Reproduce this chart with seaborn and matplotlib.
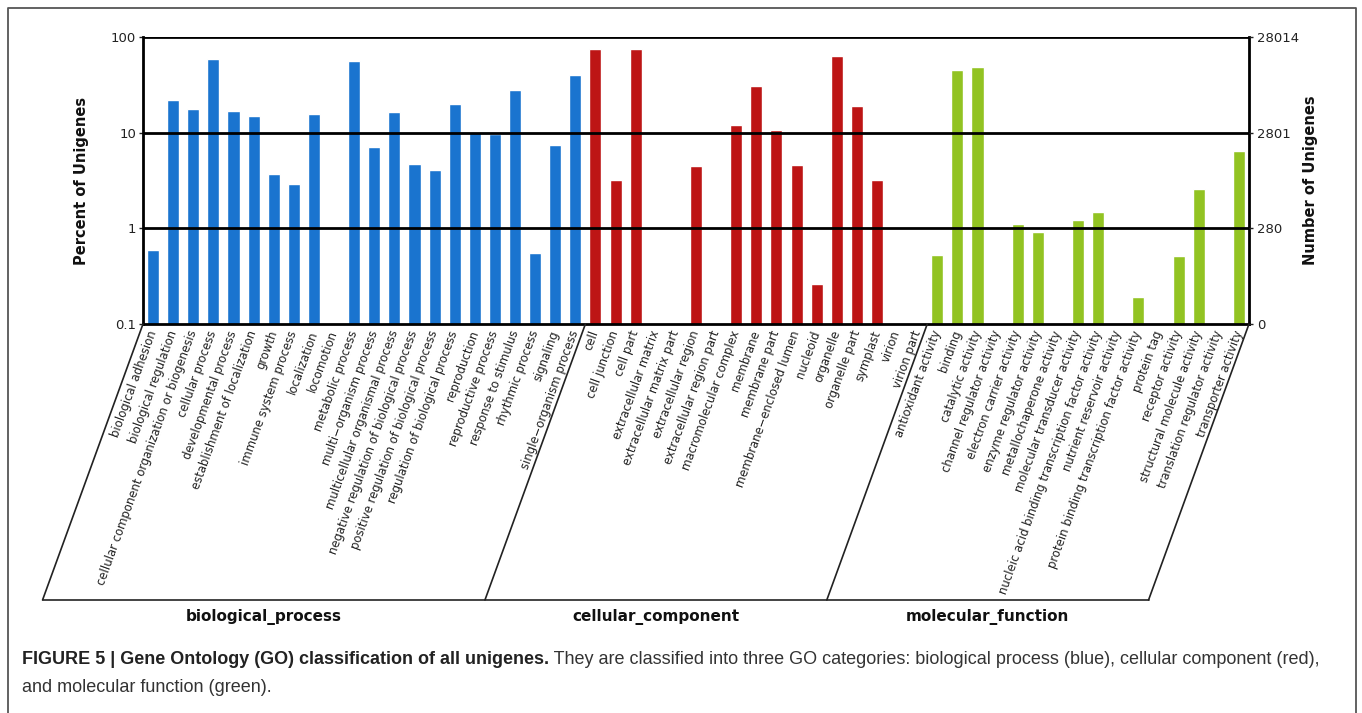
import numpy as np
import pandas as pd
import matplotlib
matplotlib.use("Agg")
import matplotlib.pyplot as plt
import seaborn as sns
from matplotlib.lines import Line2D
from matplotlib.ticker import NullLocator

# GO level-2 terms and the share of unigenes (%) annotated to each
bp_terms = [
    "biological adhesion", "biological regulation",
    "cellular component organization or biogenesis", "cellular process",
    "developmental process", "establishment of localization", "growth",
    "immune system process", "localization", "locomotion", "metabolic process",
    "multi\u2212organism process", "multicellular organismal process",
    "negative regulation of biological process",
    "positive regulation of biological process",
    "regulation of biological process", "reproduction", "reproductive process",
    "response to stimulus", "rhythmic process", "signaling",
    "single\u2212organism process",
]
bp_percent = [0.59, 21.8, 17.5, 59.5, 16.9, 14.9, 3.7, 2.88, 15.7, 0, 56.7,
              7.06, 16.5, 4.66, 4.09, 19.8, 10.2, 9.57, 27.8, 0.557, 7.4, 40.5]

cc_terms = [
    "cell", "cell junction", "cell part", "extracellular matrix",
    "extracellular matrix part", "extracellular region",
    "extracellular region part", "macromolecular complex", "membrane",
    "membrane part", "membrane\u2212enclosed lumen", "nucleoid", "organelle",
    "organelle part", "symplast", "virion", "virion part",
]
cc_percent = [75.7, 3.17, 75.7, 0, 0, 4.5, 0, 11.9, 30.8, 10.7, 4.61, 0.264,
              63.8, 19.0, 3.17, 0, 0]

mf_terms = [
    "antioxidant activity", "binding", "catalytic activity",
    "channel regulator activity", "electron carrier activity",
    "enzyme regulator activity", "metallochaperone activity",
    "molecular transducer activity",
    "nucleic acid binding transcription factor activity",
    "nutrient reservoir activity",
    "protein binding transcription factor activity", "protein tag",
    "receptor activity", "structural molecule activity",
    "translation regulator activity", "transporter activity",
]
mf_percent = [0.526, 44.9, 48.6, 0, 1.10, 0.922, 0, 1.22, 1.48, 0, 0.193, 0,
              0.51, 2.55, 0, 6.41]

group_names = ["biological_process", "cellular_component", "molecular_function"]
group_colors = ["#1a74cf", "#bd1515", "#92c322"]
total_unigenes = 28014
percent_ticks = [0.1, 1, 10, 100]
percent_tick_labels = ["0.1", "1", "10", "100"]

caption_bold = "FIGURE 5 | Gene Ontology (GO) classification of all unigenes."
caption_rest = (" They are classified into three GO categories: biological process "
                "(blue), cellular component (red),")
caption_line2 = "and molecular function (green)."

# ---- tidy table -------------------------------------------------------------
terms = bp_terms + cc_terms + mf_terms
percents = bp_percent + cc_percent + mf_percent
groups = ([group_names[0]] * len(bp_terms) + [group_names[1]] * len(cc_terms)
          + [group_names[2]] * len(mf_terms))
df = pd.DataFrame({"term": terms, "percent": percents, "group": groups})

sns.set_theme(style="white")
plt.rcParams["font.family"] = ["DejaVu Sans"]

W, H = 1362, 713
fig = plt.figure(figsize=(W / 100, H / 100), dpi=100)
ax_left_px, ax_right_px, ax_top_px, ax_bottom_px = 143, 1249, 37, 324
ax_w_px = ax_right_px - ax_left_px
ax = fig.add_axes([ax_left_px / W, 1 - ax_bottom_px / H,
                   ax_w_px / W, (ax_bottom_px - ax_top_px) / H])

sns.barplot(data=df[df["percent"] > 0], x="term", y="percent", hue="group",
            order=terms, hue_order=group_names,
            palette=dict(zip(group_names, group_colors)),
            dodge=False, width=0.6, saturation=1, legend=False, ax=ax, zorder=2)

ax.set_yscale("log")
ax.set_ylim(0.1, 100)
ax.set_xlim(-0.5, len(terms) - 0.5)
ax.yaxis.set_minor_locator(NullLocator())
ax.set_yticks(percent_ticks)
ax.set_yticklabels(percent_tick_labels)

for v in percent_ticks[1:]:
    ax.axhline(v, color="black", lw=2, zorder=3)

for side in ("left", "bottom", "right"):
    ax.spines[side].set_color("black")
    ax.spines[side].set_linewidth(2)
    ax.spines[side].set_zorder(4)
ax.spines["top"].set_visible(False)

ax.tick_params(axis="y", direction="out", length=3, width=1, labelsize=9.5,
               colors="#222222", pad=2, left=True)
ax.tick_params(axis="x", length=0, pad=5)
ax.set_xticks(range(len(terms)))
ax.set_xticklabels(terms, rotation=70, ha="right", va="center",
                   rotation_mode="anchor", fontsize=8.4, color="#222222")
ax.set_xlabel("")
ax.set_ylabel("Percent of Unigenes", fontweight="bold", fontsize=10.5,
              color="#111111")
ax.yaxis.set_label_coords((89 - ax_left_px) / ax_w_px, 0.5)

# right-hand axis: absolute number of unigenes
ax2 = ax.twinx()
ax2.set_yscale("log")
ax2.set_ylim(0.1, 100)
ax2.yaxis.set_minor_locator(NullLocator())
ax2.set_yticks(percent_ticks)
ax2.set_yticklabels(["0"] + [str(int(total_unigenes * v / 100)) for v in percent_ticks[1:]])
ax2.tick_params(axis="y", direction="out", length=3, width=1, labelsize=9.5,
                colors="#222222", pad=3, right=True)
for s in ax2.spines.values():
    s.set_visible(False)
ax2.set_ylabel("Number of Unigenes", fontweight="bold", fontsize=10.5,
               color="#111111")
ax2.yaxis.set_label_coords((1303 - ax_left_px) / ax_w_px, 0.5)

# ---- slanted group brackets under the tick labels ---------------------------
bracket_bottom_px = 600
slant = np.tan(np.radians(70))
sizes = [len(bp_terms), len(cc_terms), len(mf_terms)]
bounds = np.concatenate([[0], np.cumsum(sizes)]) - 0.5
top_y = H - ax_bottom_px
bot_y = H - bracket_bottom_px
dx = (top_y - bot_y) / slant
top_x = [ax.transData.transform((b, 1))[0] for b in bounds]
bot_x = [x - dx for x in top_x]

line_kw = dict(color="#222222", lw=1.2, transform=fig.transFigure)
for xt, xb in zip(top_x, bot_x):
    fig.add_artist(Line2D([xt / W, xb / W], [top_y / H, bot_y / H], **line_kw))
fig.add_artist(Line2D([bot_x[0] / W, bot_x[-1] / W], [bot_y / H, bot_y / H], **line_kw))

for i, name in enumerate(group_names):
    cx = (bot_x[i] + bot_x[i + 1]) / 2
    fig.text(cx / W, 1 - 617 / H, name, ha="center", va="center",
             fontsize=11, fontweight="bold", color="#111111")

# ---- caption and outer frame -------------------------------------------------
cap_font = ["Liberation Sans", "DejaVu Sans"]
cap_size = 13
renderer = fig.canvas.get_renderer()
t_bold = fig.text(22 / W, 1 - 660 / H, caption_bold, ha="left", va="center",
                  fontsize=cap_size, fontweight="bold", family=cap_font,
                  color="#222222")
bb = t_bold.get_window_extent(renderer=renderer)
fig.text(bb.x1 / W, 1 - 660 / H, caption_rest, ha="left", va="center",
         fontsize=cap_size, family=cap_font, color="#333333")
fig.text(22 / W, 1 - 687 / H, caption_line2, ha="left", va="center",
         fontsize=cap_size, family=cap_font, color="#333333")

frame_kw = dict(color="#555555", lw=1.3, transform=fig.transFigure)
fig.add_artist(Line2D([8 / W, 8 / W, 1356 / W, 1356 / W],
                      [0, 1 - 8 / H, 1 - 8 / H, 0], **frame_kw))

fig.savefig("out.png", dpi=100)
